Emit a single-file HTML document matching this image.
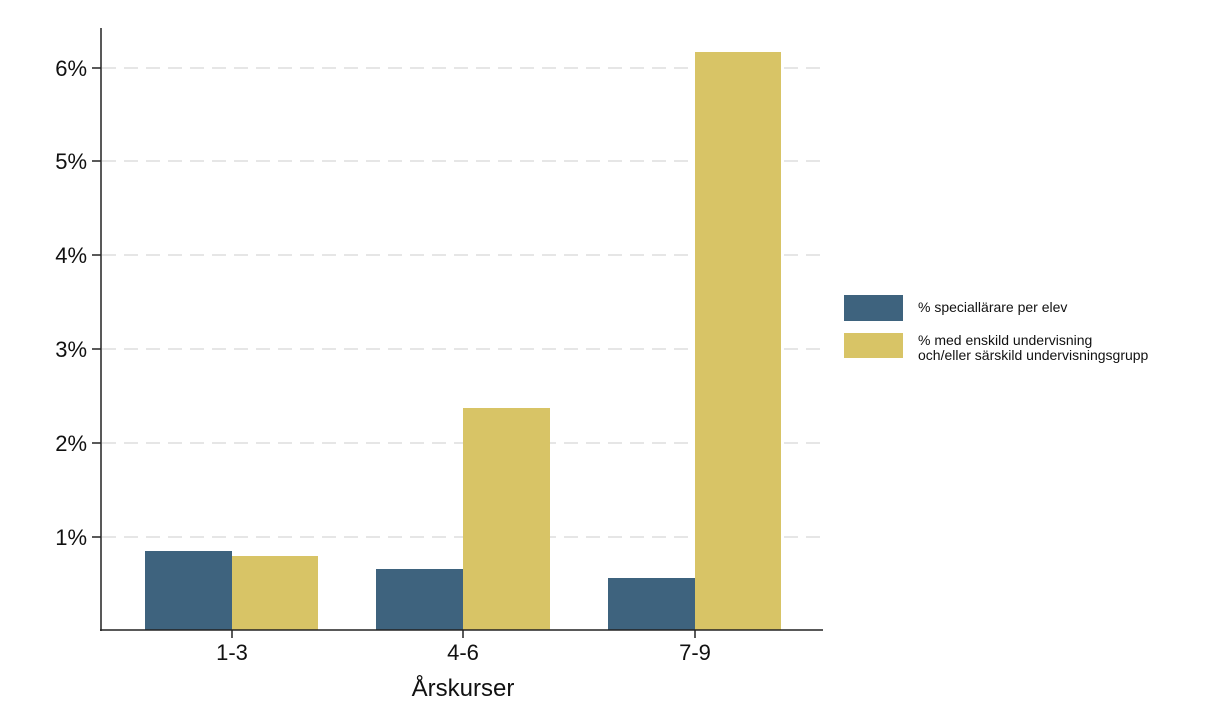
<!DOCTYPE html>
<html><head><style>body{margin:0;background:#fff}svg{display:block}</style></head><body>
<svg width="1212" height="728" xmlns="http://www.w3.org/2000/svg" font-family="Liberation Sans, sans-serif">
<g stroke="#e6e6e6" stroke-width="2" stroke-dasharray="14,8">
<line x1="102" x2="822" y1="68" y2="68"/><line x1="102" x2="822" y1="161" y2="161"/>
<line x1="102" x2="822" y1="255" y2="255"/><line x1="102" x2="822" y1="349" y2="349"/>
<line x1="102" x2="822" y1="443" y2="443"/><line x1="102" x2="822" y1="537" y2="537"/>
</g>
<g fill="#3e637e"><rect x="145" y="551" width="87" height="79"/><rect x="376" y="569" width="87" height="61"/><rect x="608" y="578" width="87" height="52"/></g>
<g fill="#d8c466"><rect x="232" y="556" width="86" height="74"/><rect x="463" y="408" width="87" height="222"/><rect x="695" y="52" width="86" height="578"/></g>
<g stroke="#222" stroke-width="1.5"><line x1="101" y1="28" x2="101" y2="631"/><line x1="100" y1="630" x2="823" y2="630"/>
<line x1="92" x2="101" y1="68" y2="68"/><line x1="92" x2="101" y1="161" y2="161"/><line x1="92" x2="101" y1="255" y2="255"/><line x1="92" x2="101" y1="349" y2="349"/><line x1="92" x2="101" y1="443" y2="443"/><line x1="92" x2="101" y1="537" y2="537"/>
<line x1="232" x2="232" y1="630" y2="638"/><line x1="463" x2="463" y1="630" y2="638"/><line x1="695" x2="695" y1="630" y2="638"/></g>
<g font-size="22" fill="#111" text-anchor="end"><text x="87" y="76">6%</text><text x="87" y="169">5%</text><text x="87" y="263">4%</text><text x="87" y="357">3%</text><text x="87" y="451">2%</text><text x="87" y="545">1%</text></g>
<g font-size="22" fill="#111" text-anchor="middle"><text x="232" y="660">1-3</text><text x="463" y="660">4-6</text><text x="695" y="660">7-9</text><text x="463" y="696" font-size="24">Årskurser</text></g>
<rect x="844" y="295" width="59" height="26" fill="#3e637e"/><rect x="844" y="333" width="59" height="25" fill="#d8c466"/>
<g font-size="14" fill="#111"><text x="918" y="312">% speciallärare per elev</text><text x="918" y="345">% med enskild undervisning</text><text x="918" y="360">och/eller särskild undervisningsgrupp</text></g>
</svg></body></html>
